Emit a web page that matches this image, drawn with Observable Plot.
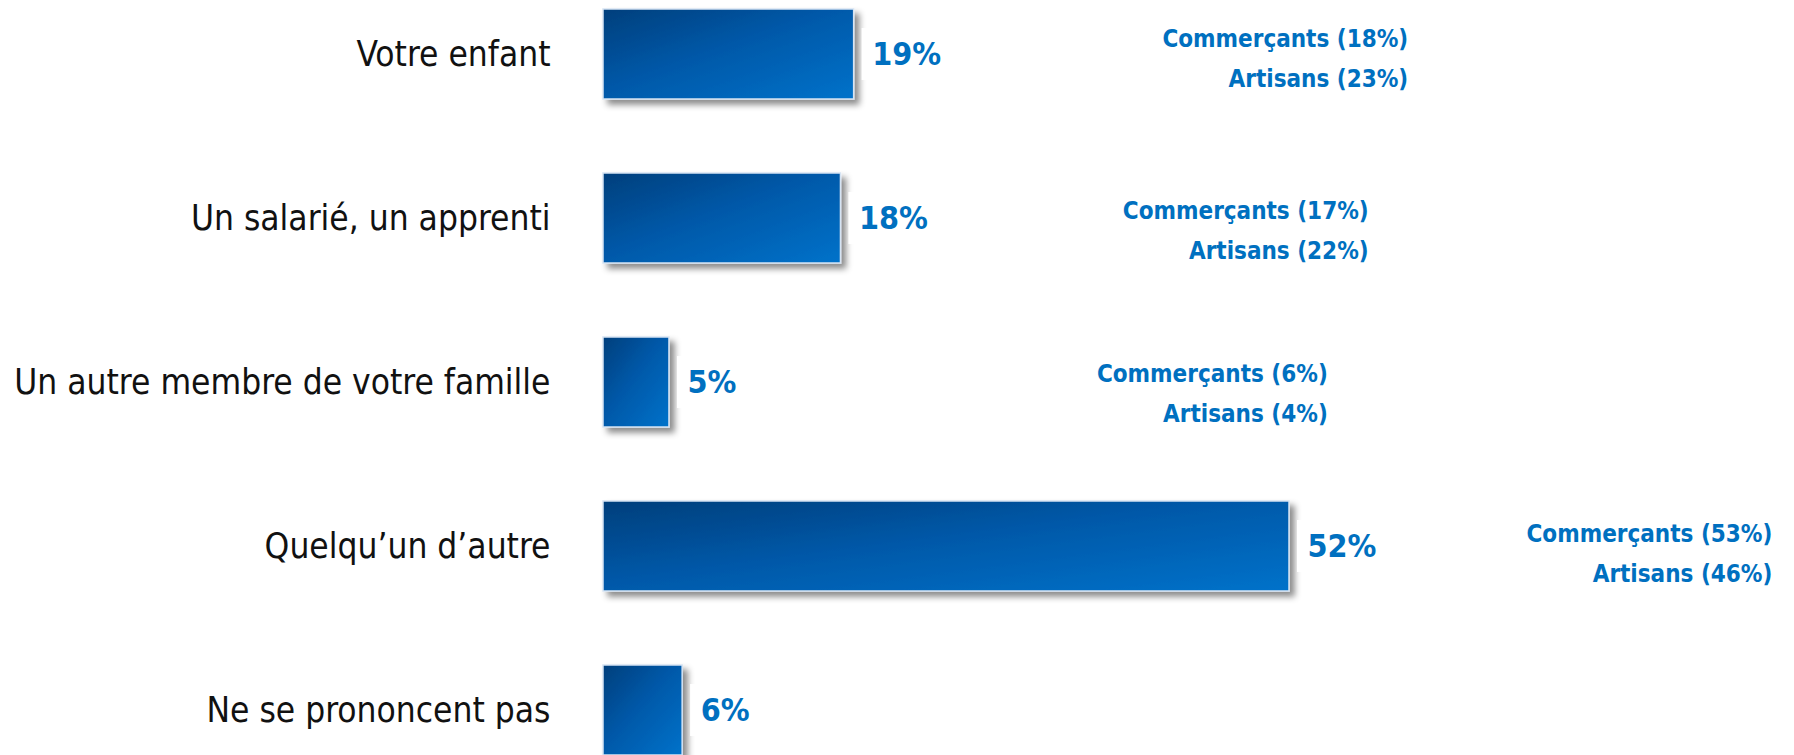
<!DOCTYPE html>
<html><head><meta charset="utf-8">
<script src="https://cdn.jsdelivr.net/npm/d3@7"></script>
<script src="https://cdn.jsdelivr.net/npm/@observablehq/plot@0.6"></script>
<style>
html,body{margin:0;padding:0;background:#fff;}
#chart svg{display:block;}
</style></head><body><div id="chart"></div>
<script>
// ---- data ----
const categories = ["Votre enfant", "Un salarié, un apprenti", "Un autre membre de votre famille", "Quelqu’un d’autre", "Ne se prononcent pas"];
const values = [19, 18, 5, 52, 6];
const commercants = [18, 17, 6, 53, null];
const artisans = [23, 22, 4, 46, null];
// ---- layout: right edge of side notes (x-scale units) and vertical nudge (px) ----
const noteRight = [61.0, 58.0, 54.9, 88.6, null];
const noteNudge = [-6, 2, 1, -3, 0];

const rows = categories.map((c, i) => ({
  cat: c, v: values[i],
  com: commercants[i], art: artisans[i], nx: noteRight[i], nd: noteNudge[i]
}));
const notes = rows.filter(d => d.com != null);

const FONT = "'DejaVu Sans Condensed', 'DejaVu Sans', sans-serif";
const BLUE = "#0070c0";

const noteMarks = notes.flatMap(d => [
  Plot.text([d], {y: "cat", x: "nx", text: r => `Commerçants (${r.com}%)`, dy: -9 + d.nd, textAnchor: "end", fill: BLUE, fontWeight: "bold", fontSize: 24}),
  Plot.text([d], {y: "cat", x: "nx", text: r => `Artisans (${r.art}%)`, dy: 31 + d.nd, textAnchor: "end", fill: BLUE, fontWeight: "bold", fontSize: 24})
]);

const chart = Plot.plot({
  width: 1794,
  height: 755,
  marginLeft: 0, marginRight: 0, marginTop: 0, marginBottom: 0,
  style: {fontFamily: FONT, fontStretch: "condensed", background: "#fff", overflow: "hidden"},
  x: {domain: [0, 52], range: [603, 1289], axis: null},
  y: {domain: categories, range: [8, 756], paddingInner: 0.453, paddingOuter: 0, axis: null},
  marks: [
    Plot.barX(rows, {y: "cat", x1: 0, x2: "v", fill: "url(#barGrad)", stroke: "#d6e4f3", strokeWidth: 1.5}),
    Plot.barX(rows, {y: "cat", x1: "v", x2: "v", insetLeft: 8, insetRight: -110, insetTop: 19, insetBottom: 19, fill: "#fff"}),
    Plot.text(rows, {y: "cat", x: "v", text: d => d.v + "%", dx: 18, textAnchor: "start", fill: BLUE, fontWeight: "bold", fontSize: 32}),
    Plot.text(rows, {y: "cat", x: 0, text: "cat", dx: -53, textAnchor: "end", fill: "#111", fontSize: 35}),
    ...noteMarks
  ]
});

// gradient + drop shadow definitions
const svg = d3.select(chart);
const defs = svg.insert("defs", ":first-child");
const g = defs.append("linearGradient").attr("id", "barGrad")
  .attr("x1", 0).attr("y1", 0).attr("x2", 1).attr("y2", 1);
g.append("stop").attr("offset", "0%").attr("stop-color", "#003f7c");
g.append("stop").attr("offset", "45%").attr("stop-color", "#0058a8");
g.append("stop").attr("offset", "100%").attr("stop-color", "#0072ca");
const f = defs.append("filter").attr("id", "barShadow")
  .attr("filterUnits", "userSpaceOnUse")
  .attr("x", 0).attr("y", 0).attr("width", 1794).attr("height", 800);
f.append("feDropShadow").attr("dx", 5).attr("dy", 5).attr("stdDeviation", 3)
  .attr("flood-color", "#000").attr("flood-opacity", 0.45);
const gradEl = chart.querySelector('[fill="url(#barGrad)"]');
if (gradEl) {
  const grp = gradEl.tagName.toLowerCase() === "g" ? gradEl : gradEl.closest("g");
  if (grp) grp.setAttribute("filter", "url(#barShadow)");
}

document.getElementById("chart").appendChild(chart);
</script>
</body></html>
